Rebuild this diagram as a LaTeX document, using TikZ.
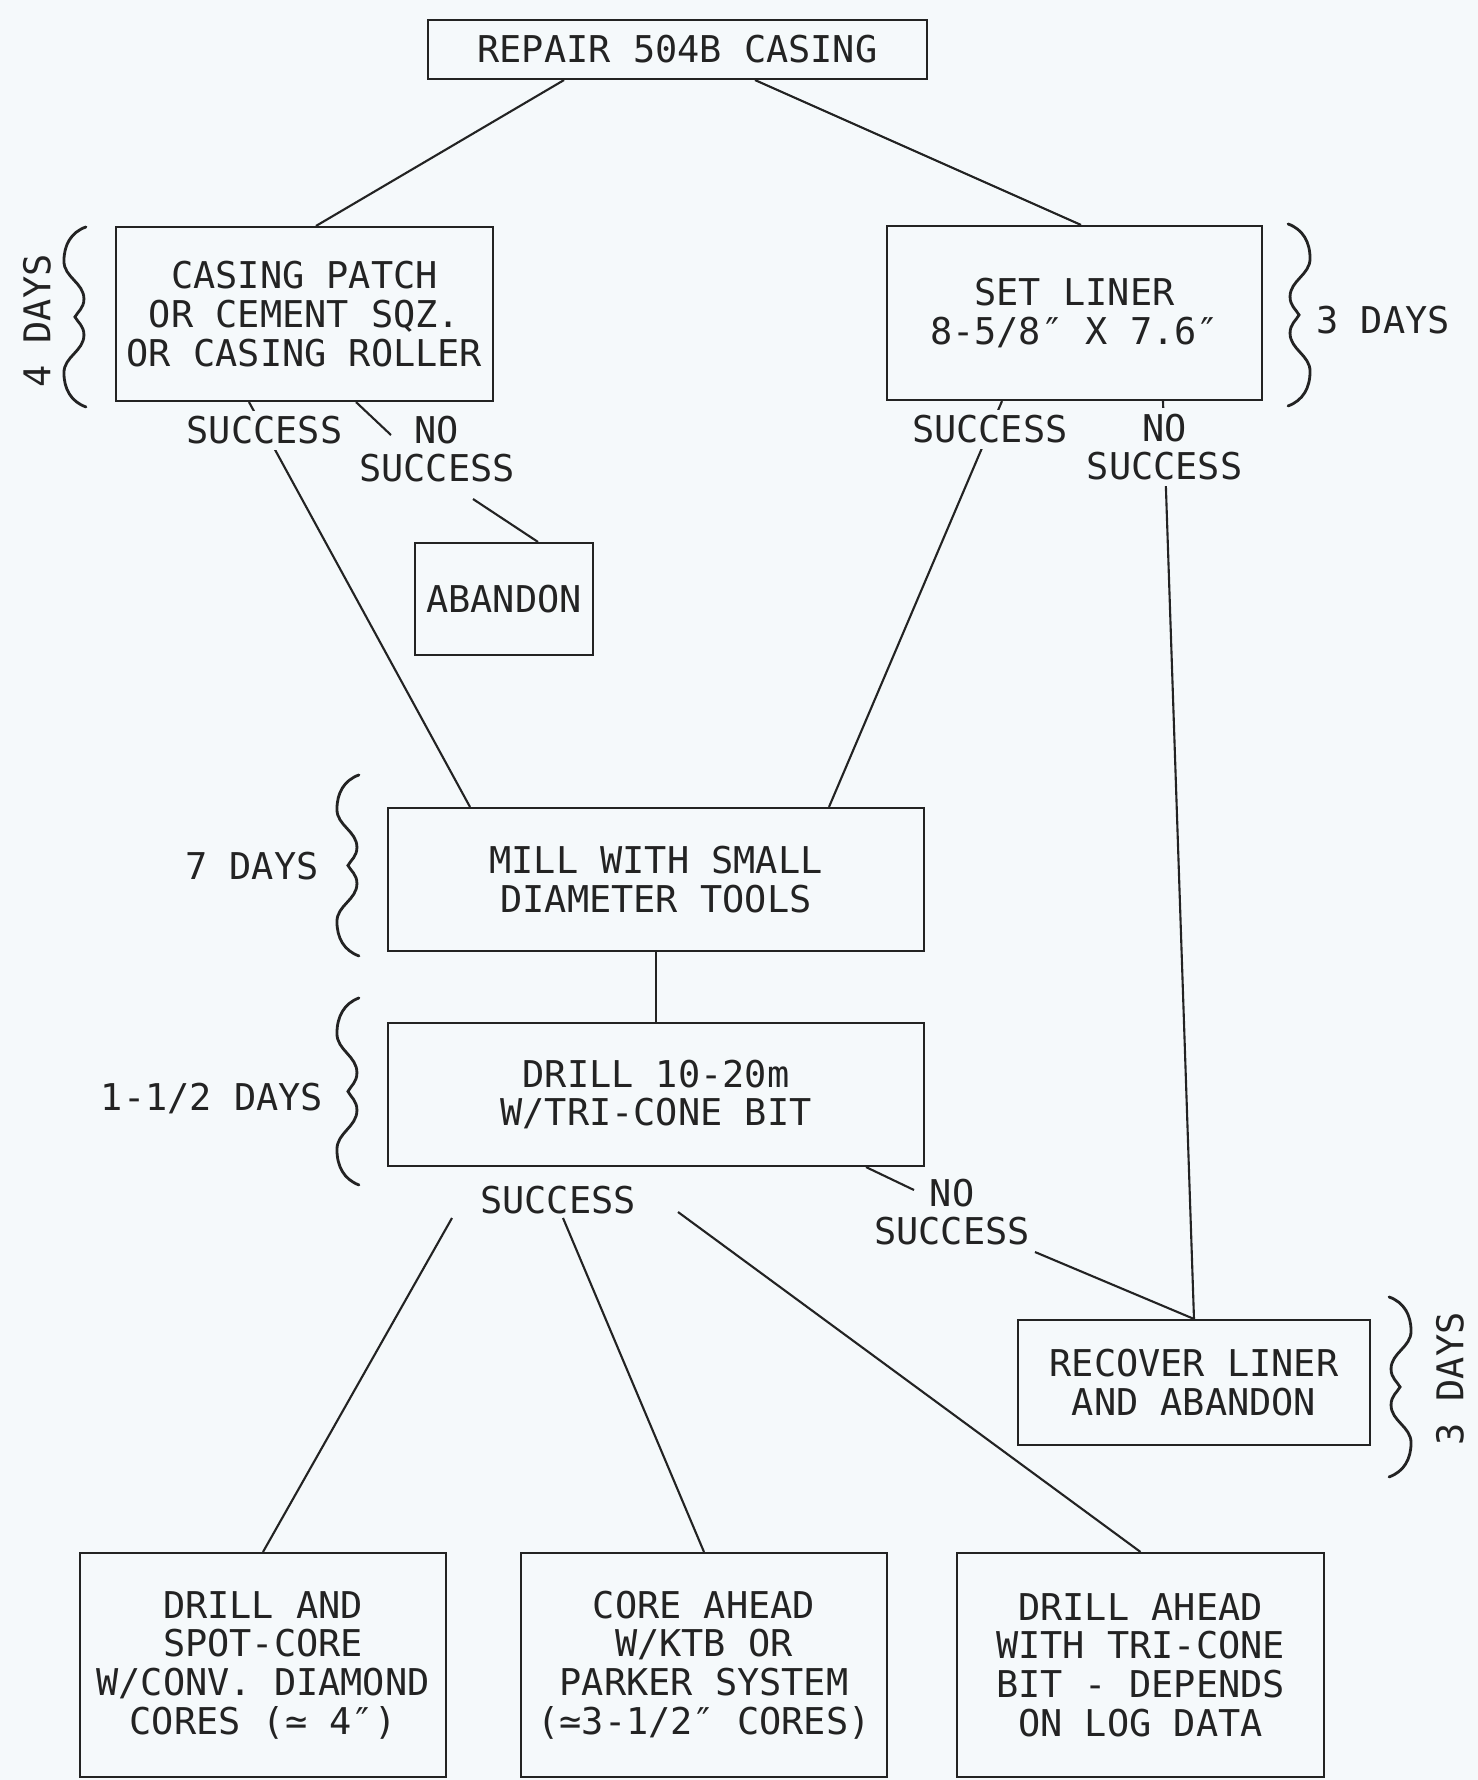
\documentclass[tikz,border=0pt]{standalone}
\usepackage{fontspec}
\newfontfamily\plotter{DejaVu Sans Mono}
\usetikzlibrary{positioning,calc}
\definecolor{paper}{RGB}{245,249,251}
\definecolor{ink}{RGB}{35,35,35}

\begin{document}
\begin{tikzpicture}[
    box/.style={rectangle, draw=ink, line width=0.6pt, inner sep=0pt, align=center, text=ink, font=\plotter\fontsize{10.5}{11}\selectfont},
    lbl/.style={fill=paper, inner sep=1.5pt, align=center, text=ink, font=\plotter\fontsize{10.5}{11}\selectfont},
    days/.style={inner sep=0pt, text=ink, font=\plotter\fontsize{10.5}{11}\selectfont},
    link/.style={draw=ink, line width=0.6pt},
    wavy/.pic={
        \draw[draw=ink, line width=0.8pt, line cap=round]
            (0,0) .. controls (-0.15,-0.03) and (-0.22,-0.10) .. (-0.22,-0.19)
            .. controls (-0.22,-0.28) and (-0.02,-0.31) .. (-0.02,-0.40)
            .. controls (-0.02,-0.45) and (-0.08,-0.47) .. (-0.11,-0.50)
            .. controls (-0.08,-0.53) and (-0.02,-0.55) .. (-0.02,-0.60)
            .. controls (-0.02,-0.69) and (-0.22,-0.72) .. (-0.22,-0.81)
            .. controls (-0.22,-0.90) and (-0.15,-0.97) .. (0,-1);
    }]

    \fill[paper] (0,0) rectangle (14.78,-17.8);
    \useasboundingbox (0,0) rectangle (14.78,-17.8);

    % Top
    \node[box, minimum width=4.99cm, minimum height=0.59cm] (repair) at (6.775,-0.495) {REPAIR 504B CASING};

    % First attempts
    \node[box, minimum width=3.77cm, minimum height=1.74cm] (casing) at (3.045,-3.14) {CASING PATCH\\OR CEMENT SQZ.\\OR CASING ROLLER};
    \node[box, minimum width=3.75cm, minimum height=1.74cm] (liner) at (10.745,-3.13) {SET LINER\\8-5/8″ X 7.6″};
    \node[box, minimum width=1.78cm, minimum height=1.12cm] (abandon) at (5.04,-5.99) {ABANDON};

    % Milling and drilling
    \node[box, minimum width=5.36cm, minimum height=1.43cm] (mill) at (6.56,-8.795) {MILL WITH SMALL\\DIAMETER TOOLS};
    \node[box, minimum width=5.36cm, minimum height=1.43cm] (drill) at (6.56,-10.945) {DRILL 10-20m\\W/TRI-CONE BIT};
    \node[box, minimum width=3.52cm, minimum height=1.25cm] (recover) at (11.94,-13.825) {RECOVER LINER\\AND ABANDON};

    % Final options
    \node[box, minimum width=3.66cm, minimum height=2.24cm] (core1) at (2.63,-16.65) {DRILL AND\\SPOT-CORE\\W/CONV. DIAMOND\\CORES (≃ 4″)};
    \node[box, minimum width=3.66cm, minimum height=2.24cm] (core2) at (7.04,-16.65) {CORE AHEAD\\W/KTB OR\\PARKER SYSTEM\\(≃3-1/2″ CORES)};
    \node[box, minimum width=3.67cm, minimum height=2.24cm] (core3) at (11.405,-16.65) {DRILL AHEAD\\WITH TRI-CONE\\BIT - DEPENDS\\ON LOG DATA};

    % Connectors
    \draw[link] ([xshift=-1.135cm]repair.south) -- ([xshift=0.115cm]casing.north);
    \draw[link] ([xshift=0.775cm]repair.south) -- ([xshift=0.065cm]liner.north);
    \draw[link] ([xshift=-0.555cm]casing.south) -- node[lbl, pos=0.07] (succA) {SUCCESS} ([xshift=-1.86cm]mill.north);
    \draw[link] ([xshift=-0.725cm]liner.south) -- node[lbl, pos=0.07] (succB) {SUCCESS} ([xshift=1.73cm]mill.north);
    \draw[link] ([xshift=0.885cm]liner.south) -- node[lbl, pos=0.05] (nsuccB) {NO\\SUCCESS} (recover.north);
    \draw[link] (mill.south) -- (drill.north);

    \node[lbl, fill=none] (nsuccA) at (4.37,-4.49) {NO\\SUCCESS};
    \draw[link] ([xshift=0.515cm]casing.south) -- ([xshift=-0.46cm,yshift=0.14cm]nsuccA.center);
    \draw[link] ([xshift=0.36cm,yshift=-0.50cm]nsuccA.center) -- ([xshift=0.34cm]abandon.north);

    \node[lbl, fill=none] (nsuccD) at (9.52,-12.12) {NO\\SUCCESS};
    \draw[link] ([xshift=2.10cm]drill.south) -- ([xshift=-0.38cm,yshift=0.22cm]nsuccD.center);
    \draw[link] ([xshift=0.83cm,yshift=-0.40cm]nsuccD.center) -- (recover.north);

    \node[lbl] (succD) at (5.58,-12.00) {SUCCESS};
    \draw[link] ([xshift=-1.06cm,yshift=-0.18cm]succD.center) -- (core1.north);
    \draw[link] ([xshift=0.05cm,yshift=-0.18cm]succD.center) -- (core2.north);
    \draw[link] ([xshift=1.20cm,yshift=-0.12cm]succD.center) -- (core3.north);

    % Durations
    \pic[yscale=1.80] at ([xshift=-0.29cm,yshift=-0.01cm]casing.north west) {wavy};
    \node[days, rotate=90] (d4) at (0.37,-3.21) {4 DAYS};
    \pic[xscale=-1, yscale=1.82] at ([xshift=0.25cm,yshift=0.01cm]liner.north east) {wavy};
    \node[days] (d3a) at (13.83,-3.20) {3 DAYS};
    \pic[yscale=1.81] at ([xshift=-0.28cm,yshift=0.32cm]mill.north west) {wavy};
    \node[days] (d7) at (2.52,-8.66) {7 DAYS};
    \pic[yscale=1.87] at ([xshift=-0.28cm,yshift=0.24cm]drill.north west) {wavy};
    \node[days] (d15) at (2.12,-10.98) {1-1/2 DAYS};
    \pic[xscale=-1, yscale=1.80] at ([xshift=0.18cm,yshift=0.22cm]recover.north east) {wavy};
    \node[days, rotate=90] (d3b) at (14.50,-13.79) {3 DAYS};

\end{tikzpicture}
\end{document}
